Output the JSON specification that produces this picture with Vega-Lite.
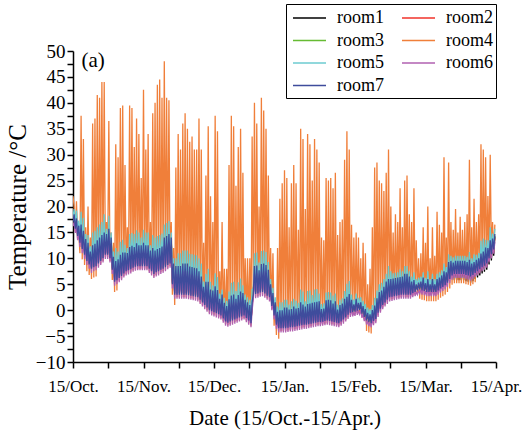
{
"$schema":"https://vega.github.io/schema/vega-lite/v6.json",
"width":423,"height":311,
"autosize":{"type":"none"},
"padding":{"left":73,"top":51,"right":27,"bottom":72},
"background":"white",
"config":{"view":{"stroke":null},"font":"Liberation Serif"},
"encoding":{
"x":{"field":"t","type":"quantitative","scale":{"domain":[0,183],"nice":false,"zero":false},
"axis":{"title":"Date (15/Oct.-15/Apr.)","values":[0,15.25,30.5,45.75,61,76.25,91.5,106.75,122,137.25,152.5,167.75,183],
"labelExpr":"datum.value==0?'15/Oct.':datum.value==30.5?'15/Nov.':datum.value==61?'15/Dec.':datum.value==91.5?'15/Jan.':datum.value==122?'15/Feb.':datum.value==152.5?'15/Mar.':datum.value==183?'15/Apr.':''",
"grid":false,"labelFlush":false,"labelOverlap":false,"tickSize":6,"tickWidth":1.5,"tickColor":"black","domainColor":"black","domainWidth":1.5,"labelFont":"Liberation Serif","labelFontSize":17,"labelColor":"black","labelPadding":10,"titleFont":"Liberation Serif","titleFontSize":21,"titleFontWeight":"normal","titleColor":"black","titlePadding":13}},
"y":{"field":"v","type":"quantitative","scale":{"domain":[-10,50],"nice":false,"zero":false},
"axis":{"title":"Temperature /°C","values":[-10,-7.5,-5,-2.5,0,2.5,5,7.5,10,12.5,15,17.5,20,22.5,25,27.5,30,32.5,35,37.5,40,42.5,45,47.5,50],
"labelExpr":"datum.value % 5 == 0 ? datum.label : ''",
"grid":false,"labelOverlap":false,"tickSize":6,"tickWidth":1.5,"tickColor":"black","domainColor":"black","domainWidth":1.5,"labelFont":"Liberation Serif","labelFontSize":19,"labelColor":"black","labelPadding":2,"titleFont":"Liberation Serif","titleFontSize":25,"titleFontWeight":"normal","titleColor":"black","titlePadding":5}}
},
"layer":[
{"data":{"values":[
{"t":0,"r1":17.3,"r2":17.6,"r3":17.9,"r4":22,"r5":18,"r6":16.2,"r7":17},
{"t":0.5,"r1":18,"r2":17.7,"r3":18.2,"r4":20,"r5":19.5,"r6":17,"r7":18.5},
{"t":1,"r1":16,"r2":16.3,"r3":16.6,"r4":15.2,"r5":16.7,"r6":14.9,"r7":15.7},
{"t":1.5,"r1":17.2,"r2":16.9,"r3":17.4,"r4":21,"r5":19.2,"r6":16.2,"r7":17.7},
{"t":2,"r1":14.6,"r2":14.9,"r3":15.2,"r4":13.8,"r5":15.3,"r6":13.5,"r7":14.3},
{"t":2.5,"r1":15.8,"r2":15.5,"r3":16,"r4":15,"r5":17.3,"r6":14.8,"r7":16.3},
{"t":3,"r1":13.3,"r2":13.6,"r3":13.9,"r4":11,"r5":14,"r6":12.2,"r7":13},
{"t":3.5,"r1":16,"r2":15.7,"r3":16.2,"r4":37.5,"r5":19,"r6":15,"r7":16.5},
{"t":4,"r1":12.1,"r2":12.4,"r3":12.7,"r4":9.8,"r5":12.8,"r6":11,"r7":11.8},
{"t":4.5,"r1":14.8,"r2":14.5,"r3":15,"r4":33,"r5":17.8,"r6":13.8,"r7":15.3},
{"t":5,"r1":11,"r2":11.3,"r3":11.6,"r4":8.7,"r5":11.7,"r6":9.9,"r7":10.7},
{"t":5.5,"r1":13.2,"r2":12.9,"r3":13.4,"r4":16,"r5":14.7,"r6":12.2,"r7":13.7},
{"t":6,"r1":9.8,"r2":10.1,"r3":10.4,"r4":7.5,"r5":10.5,"r6":8.7,"r7":9.5},
{"t":6.5,"r1":12.5,"r2":12.2,"r3":12.7,"r4":20,"r5":14.5,"r6":11.5,"r7":13},
{"t":7,"r1":9.1,"r2":9.4,"r3":9.7,"r4":6.8,"r5":9.8,"r6":8,"r7":8.8},
{"t":7.5,"r1":10.8,"r2":10.5,"r3":11,"r4":14,"r5":12.3,"r6":9.8,"r7":11.3},
{"t":8,"r1":8.3,"r2":8.6,"r3":8.9,"r4":6,"r5":9,"r6":7.2,"r7":8},
{"t":8.5,"r1":12,"r2":11.7,"r3":12.2,"r4":36,"r5":15,"r6":11,"r7":12.5},
{"t":9,"r1":8.6,"r2":8.9,"r3":9.2,"r4":6.3,"r5":9.3,"r6":7.5,"r7":8.3},
{"t":9.5,"r1":12.3,"r2":12,"r3":12.5,"r4":37,"r5":15.3,"r6":11.3,"r7":12.8},
{"t":10,"r1":8.8,"r2":9.1,"r3":9.4,"r4":6.5,"r5":9.5,"r6":7.7,"r7":8.5},
{"t":10.5,"r1":13,"r2":12.7,"r3":13.2,"r4":41.5,"r5":16,"r6":12,"r7":13.5},
{"t":11,"r1":9.3,"r2":9.6,"r3":9.9,"r4":8.5,"r5":10,"r6":8.2,"r7":9},
{"t":11.5,"r1":13.5,"r2":13.2,"r3":13.7,"r4":41,"r5":16.5,"r6":12.5,"r7":14},
{"t":12,"r1":9.8,"r2":10.1,"r3":10.4,"r4":9,"r5":10.5,"r6":8.7,"r7":9.5},
{"t":12.5,"r1":14,"r2":13.7,"r3":14.2,"r4":44,"r5":17,"r6":13,"r7":14.5},
{"t":13,"r1":10.3,"r2":10.6,"r3":10.9,"r4":9.5,"r5":11,"r6":9.2,"r7":10},
{"t":13.5,"r1":14.5,"r2":14.2,"r3":14.7,"r4":44,"r5":18.5,"r6":13.5,"r7":15},
{"t":14,"r1":11,"r2":11.3,"r3":11.6,"r4":10.2,"r5":11.7,"r6":9.9,"r7":10.7},
{"t":14.5,"r1":14.2,"r2":13.9,"r3":14.4,"r4":17,"r5":15.7,"r6":13.2,"r7":14.7},
{"t":15,"r1":11,"r2":11.3,"r3":11.6,"r4":10.2,"r5":11.7,"r6":9.9,"r7":10.7},
{"t":15.5,"r1":15.2,"r2":14.9,"r3":15.4,"r4":36.5,"r5":18.2,"r6":14.2,"r7":15.7},
{"t":16,"r1":10.3,"r2":10.6,"r3":10.9,"r4":9.5,"r5":11,"r6":9.2,"r7":10},
{"t":16.5,"r1":13.5,"r2":13.2,"r3":13.7,"r4":15,"r5":15,"r6":12.5,"r7":14},
{"t":17,"r1":8.1,"r2":8.4,"r3":8.7,"r4":5.8,"r5":8.8,"r6":7,"r7":7.8},
{"t":17.5,"r1":9.8,"r2":9.5,"r3":10,"r4":13,"r5":11.3,"r6":8.8,"r7":10.3},
{"t":18,"r1":5.8,"r2":6.1,"r3":6.4,"r4":3.5,"r5":6.5,"r6":4.7,"r7":5.5},
{"t":18.5,"r1":9,"r2":8.7,"r3":9.2,"r4":32,"r5":12,"r6":8,"r7":9.5},
{"t":19,"r1":6.1,"r2":6.4,"r3":6.7,"r4":3.8,"r5":6.8,"r6":5,"r7":5.8},
{"t":19.5,"r1":9.3,"r2":9,"r3":9.5,"r4":29.5,"r5":11.3,"r6":8.3,"r7":9.8},
{"t":20,"r1":6.5,"r2":6.8,"r3":7.1,"r4":5.7,"r5":7.2,"r6":5.4,"r7":6.2},
{"t":20.5,"r1":10.2,"r2":9.9,"r3":10.4,"r4":39,"r5":13.2,"r6":9.2,"r7":10.7},
{"t":21,"r1":6.9,"r2":7.2,"r3":7.5,"r4":6.1,"r5":7.6,"r6":5.8,"r7":6.6},
{"t":21.5,"r1":10.6,"r2":10.3,"r3":10.8,"r4":39.5,"r5":13.6,"r6":9.6,"r7":11.1},
{"t":22,"r1":7.4,"r2":7.7,"r3":8,"r4":6.6,"r5":8.1,"r6":6.3,"r7":7.1},
{"t":22.5,"r1":10.6,"r2":10.3,"r3":10.8,"r4":28,"r5":12.6,"r6":9.6,"r7":11.1},
{"t":23,"r1":7.8,"r2":8.1,"r3":8.4,"r4":7,"r5":8.5,"r6":6.7,"r7":7.5},
{"t":23.5,"r1":10.5,"r2":10.2,"r3":10.7,"r4":16,"r5":12,"r6":9.5,"r7":11},
{"t":24,"r1":8,"r2":8.3,"r3":8.6,"r4":7.2,"r5":8.7,"r6":6.9,"r7":7.7},
{"t":24.5,"r1":11.7,"r2":11.4,"r3":11.9,"r4":39.5,"r5":14.7,"r6":10.7,"r7":12.2},
{"t":25,"r1":8.2,"r2":8.5,"r3":8.8,"r4":7.4,"r5":8.9,"r6":7.1,"r7":7.9},
{"t":25.5,"r1":11.9,"r2":11.6,"r3":12.1,"r4":39,"r5":14.9,"r6":10.9,"r7":12.4},
{"t":26,"r1":8.5,"r2":8.8,"r3":9.1,"r4":7.7,"r5":9.2,"r6":7.4,"r7":8.2},
{"t":26.5,"r1":11.7,"r2":11.4,"r3":11.9,"r4":31.5,"r5":14.7,"r6":10.7,"r7":12.2},
{"t":27,"r1":8.7,"r2":9,"r3":9.3,"r4":7.9,"r5":9.4,"r6":7.6,"r7":8.4},
{"t":27.5,"r1":12.4,"r2":12.1,"r3":12.6,"r4":37,"r5":15.4,"r6":11.4,"r7":12.9},
{"t":28,"r1":8.8,"r2":9.1,"r3":9.4,"r4":8,"r5":9.5,"r6":7.7,"r7":8.5},
{"t":28.5,"r1":12,"r2":11.7,"r3":12.2,"r4":34,"r5":15,"r6":11,"r7":12.5},
{"t":29,"r1":8.8,"r2":9.1,"r3":9.4,"r4":8,"r5":9.5,"r6":7.7,"r7":8.5},
{"t":29.5,"r1":12,"r2":11.7,"r3":12.2,"r4":25.5,"r5":14,"r6":11,"r7":12.5},
{"t":30,"r1":8.8,"r2":9.1,"r3":9.4,"r4":8,"r5":9.5,"r6":7.7,"r7":8.5},
{"t":30.5,"r1":12.5,"r2":12.2,"r3":12.7,"r4":42.5,"r5":15.5,"r6":11.5,"r7":13},
{"t":31,"r1":8.8,"r2":9.1,"r3":9.4,"r4":8,"r5":9.5,"r6":7.7,"r7":8.5},
{"t":31.5,"r1":12,"r2":11.7,"r3":12.2,"r4":31,"r5":15,"r6":11,"r7":12.5},
{"t":32,"r1":8.8,"r2":9.1,"r3":9.4,"r4":8,"r5":9.5,"r6":7.7,"r7":8.5},
{"t":32.5,"r1":12,"r2":11.7,"r3":12.2,"r4":34,"r5":15,"r6":11,"r7":12.5},
{"t":33,"r1":8.3,"r2":8.6,"r3":8.9,"r4":7.5,"r5":9,"r6":7.2,"r7":8},
{"t":33.5,"r1":11,"r2":10.7,"r3":11.2,"r4":17,"r5":12.5,"r6":10,"r7":11.5},
{"t":34,"r1":7.8,"r2":8.1,"r3":8.4,"r4":7,"r5":8.5,"r6":6.7,"r7":7.5},
{"t":34.5,"r1":11.5,"r2":11.2,"r3":11.7,"r4":38,"r5":14.5,"r6":10.5,"r7":12},
{"t":35,"r1":7.3,"r2":7.6,"r3":7.9,"r4":6.5,"r5":8,"r6":6.2,"r7":7},
{"t":35.5,"r1":11,"r2":10.7,"r3":11.2,"r4":40,"r5":14,"r6":10,"r7":11.5},
{"t":36,"r1":7.6,"r2":7.9,"r3":8.2,"r4":6.8,"r5":8.3,"r6":6.5,"r7":7.3},
{"t":36.5,"r1":11.3,"r2":11,"r3":11.5,"r4":43.5,"r5":14.3,"r6":10.3,"r7":11.8},
{"t":37,"r1":7.8,"r2":8.1,"r3":8.4,"r4":7,"r5":8.5,"r6":6.7,"r7":7.5},
{"t":37.5,"r1":11.5,"r2":11.2,"r3":11.7,"r4":44.5,"r5":14.5,"r6":10.5,"r7":12},
{"t":38,"r1":8.1,"r2":8.4,"r3":8.7,"r4":7.3,"r5":8.8,"r6":7,"r7":7.8},
{"t":38.5,"r1":11.8,"r2":11.5,"r3":12,"r4":41,"r5":14.8,"r6":10.8,"r7":12.3},
{"t":39,"r1":8.3,"r2":8.6,"r3":8.9,"r4":7.5,"r5":9,"r6":7.2,"r7":8},
{"t":39.5,"r1":13.5,"r2":13.2,"r3":13.7,"r4":48,"r5":16.5,"r6":12.5,"r7":14},
{"t":40,"r1":8.6,"r2":8.9,"r3":9.2,"r4":7.8,"r5":9.3,"r6":7.5,"r7":8.3},
{"t":40.5,"r1":13.8,"r2":13.5,"r3":14,"r4":41,"r5":16.8,"r6":12.8,"r7":14.3},
{"t":41,"r1":9,"r2":9.3,"r3":9.6,"r4":8.2,"r5":9.7,"r6":7.9,"r7":8.7},
{"t":41.5,"r1":14.2,"r2":13.9,"r3":14.4,"r4":40.5,"r5":17.2,"r6":13.2,"r7":14.7},
{"t":42,"r1":9.3,"r2":9.6,"r3":9.9,"r4":8.5,"r5":10,"r6":8.2,"r7":9},
{"t":42.5,"r1":13.5,"r2":13.2,"r3":13.7,"r4":17,"r5":15,"r6":12.5,"r7":14},
{"t":43,"r1":5.3,"r2":5.6,"r3":5.9,"r4":3,"r5":6,"r6":4.2,"r7":5},
{"t":43.5,"r1":8.5,"r2":8.2,"r3":8.7,"r4":12,"r5":10,"r6":7.5,"r7":9},
{"t":44,"r1":3.3,"r2":3.6,"r3":3.9,"r4":1,"r5":4,"r6":2.2,"r7":3},
{"t":44.5,"r1":8,"r2":7.7,"r3":8.2,"r4":27.5,"r5":10,"r6":7,"r7":8.5},
{"t":45,"r1":3.3,"r2":3.6,"r3":3.9,"r4":2.5,"r5":4,"r6":2.2,"r7":3},
{"t":45.5,"r1":8,"r2":7.7,"r3":8.2,"r4":34,"r5":11,"r6":7,"r7":8.5},
{"t":46,"r1":3.3,"r2":3.6,"r3":3.9,"r4":2.5,"r5":4,"r6":2.2,"r7":3},
{"t":46.5,"r1":8,"r2":7.7,"r3":8.2,"r4":31,"r5":11,"r6":7,"r7":8.5},
{"t":47,"r1":3.3,"r2":3.6,"r3":3.9,"r4":2.5,"r5":4,"r6":2.2,"r7":3},
{"t":47.5,"r1":8.5,"r2":8.2,"r3":8.7,"r4":36,"r5":11.5,"r6":7.5,"r7":9},
{"t":48,"r1":3.3,"r2":3.6,"r3":3.9,"r4":2.5,"r5":4,"r6":2.2,"r7":3},
{"t":48.5,"r1":8.5,"r2":8.2,"r3":8.7,"r4":38,"r5":11.5,"r6":7.5,"r7":9},
{"t":49,"r1":3.3,"r2":3.6,"r3":3.9,"r4":2.5,"r5":4,"r6":2.2,"r7":3},
{"t":49.5,"r1":8.5,"r2":8.2,"r3":8.7,"r4":35,"r5":11.5,"r6":7.5,"r7":9},
{"t":50,"r1":3.2,"r2":3.5,"r3":3.8,"r4":2.4,"r5":3.9,"r6":2.1,"r7":2.9},
{"t":50.5,"r1":7.9,"r2":7.6,"r3":8.1,"r4":32.5,"r5":10.9,"r6":6.9,"r7":8.4},
{"t":51,"r1":3.1,"r2":3.4,"r3":3.7,"r4":2.3,"r5":3.8,"r6":2,"r7":2.8},
{"t":51.5,"r1":7.8,"r2":7.5,"r3":8,"r4":33.5,"r5":10.8,"r6":6.8,"r7":8.3},
{"t":52,"r1":3,"r2":3.3,"r3":3.6,"r4":2.2,"r5":3.7,"r6":1.9,"r7":2.7},
{"t":52.5,"r1":7.7,"r2":7.4,"r3":7.9,"r4":31,"r5":10.7,"r6":6.7,"r7":8.2},
{"t":53,"r1":2.9,"r2":3.2,"r3":3.5,"r4":2.1,"r5":3.6,"r6":1.8,"r7":2.6},
{"t":53.5,"r1":7.6,"r2":7.3,"r3":7.8,"r4":31,"r5":10.6,"r6":6.6,"r7":8.1},
{"t":54,"r1":2.8,"r2":3.1,"r3":3.4,"r4":2,"r5":3.5,"r6":1.7,"r7":2.5},
{"t":54.5,"r1":7,"r2":6.7,"r3":7.2,"r4":37,"r5":10,"r6":6,"r7":7.5},
{"t":55,"r1":2.3,"r2":2.6,"r3":2.9,"r4":1.5,"r5":3,"r6":1.2,"r7":2},
{"t":55.5,"r1":6,"r2":5.7,"r3":6.2,"r4":31,"r5":9,"r6":5,"r7":6.5},
{"t":56,"r1":1.8,"r2":2.1,"r3":2.4,"r4":1,"r5":2.5,"r6":0.7,"r7":1.5},
{"t":56.5,"r1":4,"r2":3.7,"r3":4.2,"r4":13,"r5":5.5,"r6":3,"r7":4.5},
{"t":57,"r1":1.3,"r2":1.6,"r3":1.9,"r4":0.5,"r5":2,"r6":0.2,"r7":1},
{"t":57.5,"r1":5,"r2":4.7,"r3":5.2,"r4":26,"r5":7,"r6":4,"r7":5.5},
{"t":58,"r1":0.8,"r2":1.1,"r3":1.4,"r4":0,"r5":1.5,"r6":-0.3,"r7":0.5},
{"t":58.5,"r1":5,"r2":4.7,"r3":5.2,"r4":35.5,"r5":8,"r6":4,"r7":5.5},
{"t":59,"r1":0.3,"r2":0.6,"r3":0.9,"r4":-0.5,"r5":1,"r6":-0.8,"r7":0},
{"t":59.5,"r1":3.5,"r2":3.2,"r3":3.7,"r4":22,"r5":5.5,"r6":2.5,"r7":4},
{"t":60,"r1":0.1,"r2":0.4,"r3":0.7,"r4":-0.7,"r5":0.8,"r6":-1,"r7":-0.2},
{"t":60.5,"r1":3.3,"r2":3,"r3":3.5,"r4":17,"r5":4.8,"r6":2.3,"r7":3.8},
{"t":61,"r1":-0.1,"r2":0.2,"r3":0.5,"r4":-0.9,"r5":0.6,"r6":-1.2,"r7":-0.4},
{"t":61.5,"r1":4.1,"r2":3.8,"r3":4.3,"r4":37.5,"r5":7.1,"r6":3.1,"r7":4.6},
{"t":62,"r1":-0.3,"r2":0,"r3":0.3,"r4":-1.1,"r5":0.4,"r6":-1.4,"r7":-0.6},
{"t":62.5,"r1":3.4,"r2":3.1,"r3":3.6,"r4":34.5,"r5":6.4,"r6":2.4,"r7":3.9},
{"t":63,"r1":-0.5,"r2":-0.2,"r3":0.1,"r4":-1.3,"r5":0.2,"r6":-1.6,"r7":-0.8},
{"t":63.5,"r1":1.7,"r2":1.4,"r3":1.9,"r4":7.5,"r5":3.2,"r6":0.7,"r7":2.2},
{"t":64,"r1":-0.7,"r2":-0.4,"r3":-0.1,"r4":-1.5,"r5":0,"r6":-1.8,"r7":-1},
{"t":64.5,"r1":2.5,"r2":2.2,"r3":2.7,"r4":17,"r5":4,"r6":1.5,"r7":3},
{"t":65,"r1":-1.3,"r2":-1,"r3":-0.7,"r4":-2.1,"r5":-0.6,"r6":-2.4,"r7":-1.6},
{"t":65.5,"r1":0.9,"r2":0.6,"r3":1.1,"r4":8,"r5":2.4,"r6":-0.1,"r7":1.4},
{"t":66,"r1":-1.9,"r2":-1.6,"r3":-1.3,"r4":-2.7,"r5":-1.2,"r6":-3,"r7":-2.2},
{"t":66.5,"r1":0.3,"r2":0,"r3":0.5,"r4":8,"r5":1.8,"r6":-0.7,"r7":0.8},
{"t":67,"r1":-2.1,"r2":-1.8,"r3":-1.5,"r4":-2.9,"r5":-1.4,"r6":-3.2,"r7":-2.4},
{"t":67.5,"r1":1.6,"r2":1.3,"r3":1.8,"r4":28,"r5":3.6,"r6":0.6,"r7":2.1},
{"t":68,"r1":-1.9,"r2":-1.6,"r3":-1.3,"r4":-2.7,"r5":-1.2,"r6":-3,"r7":-2.2},
{"t":68.5,"r1":2.3,"r2":2,"r3":2.5,"r4":37.5,"r5":5.3,"r6":1.3,"r7":2.8},
{"t":69,"r1":-1.7,"r2":-1.4,"r3":-1.1,"r4":-2.5,"r5":-1,"r6":-2.8,"r7":-2},
{"t":69.5,"r1":2.5,"r2":2.2,"r3":2.7,"r4":35.5,"r5":5.5,"r6":1.5,"r7":3},
{"t":70,"r1":-1.5,"r2":-1.2,"r3":-0.9,"r4":-2.3,"r5":-0.8,"r6":-2.6,"r7":-1.8},
{"t":70.5,"r1":1.7,"r2":1.4,"r3":1.9,"r4":24,"r5":3.7,"r6":0.7,"r7":2.2},
{"t":71,"r1":-1.3,"r2":-1,"r3":-0.7,"r4":-2.1,"r5":-0.6,"r6":-2.4,"r7":-1.6},
{"t":71.5,"r1":2.4,"r2":2.1,"r3":2.6,"r4":31.5,"r5":5.4,"r6":1.4,"r7":2.9},
{"t":72,"r1":-1.1,"r2":-0.8,"r3":-0.5,"r4":-1.9,"r5":-0.4,"r6":-2.2,"r7":-1.4},
{"t":72.5,"r1":3.1,"r2":2.8,"r3":3.3,"r4":35,"r5":6.1,"r6":2.1,"r7":3.6},
{"t":73,"r1":-0.9,"r2":-0.6,"r3":-0.3,"r4":-1.7,"r5":-0.2,"r6":-2,"r7":-1.2},
{"t":73.5,"r1":2.8,"r2":2.5,"r3":3,"r4":26.5,"r5":4.8,"r6":1.8,"r7":3.3},
{"t":74,"r1":-0.7,"r2":-0.4,"r3":-0.1,"r4":-1.5,"r5":0,"r6":-1.8,"r7":-1},
{"t":74.5,"r1":1.5,"r2":1.2,"r3":1.7,"r4":10,"r5":3,"r6":0.5,"r7":2},
{"t":75,"r1":-1.2,"r2":-0.9,"r3":-0.6,"r4":-2,"r5":-0.5,"r6":-2.3,"r7":-1.5},
{"t":75.5,"r1":1,"r2":0.7,"r3":1.2,"r4":10,"r5":2.5,"r6":0,"r7":1.5},
{"t":76,"r1":-1.7,"r2":-1.4,"r3":-1.1,"r4":-2.5,"r5":-1,"r6":-2.8,"r7":-2},
{"t":76.5,"r1":0.5,"r2":0.2,"r3":0.7,"r4":10,"r5":2,"r6":-0.5,"r7":1},
{"t":77,"r1":-2.2,"r2":-1.9,"r3":-1.6,"r4":-3,"r5":-1.5,"r6":-3.3,"r7":-2.5},
{"t":77.5,"r1":1,"r2":0.7,"r3":1.2,"r4":33.5,"r5":4,"r6":0,"r7":1.5},
{"t":78,"r1":3.3,"r2":3.6,"r3":3.9,"r4":2.5,"r5":4,"r6":2.2,"r7":3},
{"t":78.5,"r1":8,"r2":7.7,"r3":8.2,"r4":40,"r5":11,"r6":7,"r7":8.5},
{"t":79,"r1":3.4,"r2":3.7,"r3":4,"r4":2.6,"r5":4.1,"r6":2.3,"r7":3.1},
{"t":79.5,"r1":8.1,"r2":7.8,"r3":8.3,"r4":36,"r5":11.1,"r6":7.1,"r7":8.6},
{"t":80,"r1":3.5,"r2":3.8,"r3":4.1,"r4":2.7,"r5":4.2,"r6":2.4,"r7":3.2},
{"t":80.5,"r1":7.2,"r2":6.9,"r3":7.4,"r4":20,"r5":9.2,"r6":6.2,"r7":7.7},
{"t":81,"r1":3.7,"r2":4,"r3":4.3,"r4":2.9,"r5":4.4,"r6":2.6,"r7":3.4},
{"t":81.5,"r1":8.4,"r2":8.1,"r3":8.6,"r4":41,"r5":11.4,"r6":7.4,"r7":8.9},
{"t":82,"r1":3.8,"r2":4.1,"r3":4.4,"r4":3,"r5":4.5,"r6":2.7,"r7":3.5},
{"t":82.5,"r1":8.5,"r2":8.2,"r3":8.7,"r4":38.5,"r5":11.5,"r6":7.5,"r7":9},
{"t":83,"r1":3.5,"r2":3.8,"r3":4.1,"r4":2.7,"r5":4.2,"r6":2.4,"r7":3.2},
{"t":83.5,"r1":8.2,"r2":7.9,"r3":8.4,"r4":35,"r5":11.2,"r6":7.2,"r7":8.7},
{"t":84,"r1":3.1,"r2":3.4,"r3":3.7,"r4":2.3,"r5":3.8,"r6":2,"r7":2.8},
{"t":84.5,"r1":7.3,"r2":7,"r3":7.5,"r4":26,"r5":9.3,"r6":6.3,"r7":7.8},
{"t":85,"r1":2.8,"r2":3.1,"r3":3.4,"r4":2,"r5":3.5,"r6":1.7,"r7":2.5},
{"t":85.5,"r1":4.5,"r2":4.2,"r3":4.7,"r4":12,"r5":6,"r6":3.5,"r7":5},
{"t":86,"r1":1.1,"r2":1.4,"r3":1.7,"r4":0.3,"r5":1.8,"r6":0,"r7":0.8},
{"t":86.5,"r1":2.8,"r2":2.5,"r3":3,"r4":11,"r5":4.3,"r6":1.8,"r7":3.3},
{"t":87,"r1":-0.7,"r2":-0.4,"r3":-0.1,"r4":-3,"r5":0,"r6":-1.8,"r7":-1},
{"t":87.5,"r1":1,"r2":0.7,"r3":1.2,"r4":2,"r5":2.5,"r6":0,"r7":1.5},
{"t":88,"r1":-2.5,"r2":-2.2,"r3":-1.9,"r4":-4.8,"r5":-1.8,"r6":-3.6,"r7":-2.8},
{"t":88.5,"r1":-0.8,"r2":-1.1,"r3":-0.6,"r4":12,"r5":0.7,"r6":-1.8,"r7":-0.3},
{"t":89,"r1":-3.2,"r2":-2.9,"r3":-2.6,"r4":-5.5,"r5":-2.5,"r6":-4.3,"r7":-3.5},
{"t":89.5,"r1":-0.5,"r2":-0.8,"r3":-0.3,"r4":21.5,"r5":1.5,"r6":-1.5,"r7":0},
{"t":90,"r1":-3.2,"r2":-2.9,"r3":-2.6,"r4":-4,"r5":-2.5,"r6":-4.3,"r7":-3.5},
{"t":90.5,"r1":-0.5,"r2":-0.8,"r3":-0.3,"r4":24.5,"r5":1.5,"r6":-1.5,"r7":0},
{"t":91,"r1":-3.2,"r2":-2.9,"r3":-2.6,"r4":-4,"r5":-2.5,"r6":-4.3,"r7":-3.5},
{"t":91.5,"r1":0,"r2":-0.3,"r3":0.2,"r4":27,"r5":2,"r6":-1,"r7":0.5},
{"t":92,"r1":-3.2,"r2":-2.9,"r3":-2.6,"r4":-4,"r5":-2.5,"r6":-4.3,"r7":-3.5},
{"t":92.5,"r1":0,"r2":-0.3,"r3":0.2,"r4":25.5,"r5":2,"r6":-1,"r7":0.5},
{"t":93,"r1":-3.1,"r2":-2.8,"r3":-2.5,"r4":-3.9,"r5":-2.4,"r6":-4.2,"r7":-3.4},
{"t":93.5,"r1":-0.4,"r2":-0.7,"r3":-0.2,"r4":16,"r5":1.1,"r6":-1.4,"r7":0.1},
{"t":94,"r1":-3,"r2":-2.7,"r3":-2.4,"r4":-3.8,"r5":-2.3,"r6":-4.1,"r7":-3.3},
{"t":94.5,"r1":-0.3,"r2":-0.6,"r3":-0.1,"r4":24.5,"r5":1.7,"r6":-1.3,"r7":0.2},
{"t":95,"r1":-3,"r2":-2.7,"r3":-2.4,"r4":-3.8,"r5":-2.3,"r6":-4.1,"r7":-3.3},
{"t":95.5,"r1":0.2,"r2":-0.1,"r3":0.4,"r4":28,"r5":2.2,"r6":-0.8,"r7":0.7},
{"t":96,"r1":-2.9,"r2":-2.6,"r3":-2.3,"r4":-3.7,"r5":-2.2,"r6":-4,"r7":-3.2},
{"t":96.5,"r1":-0.2,"r2":-0.5,"r3":0,"r4":24.5,"r5":1.8,"r6":-1.2,"r7":0.3},
{"t":97,"r1":-2.8,"r2":-2.5,"r3":-2.2,"r4":-3.6,"r5":-2.1,"r6":-3.9,"r7":-3.1},
{"t":97.5,"r1":-0.1,"r2":-0.4,"r3":0.1,"r4":15.5,"r5":1.4,"r6":-1.1,"r7":0.4},
{"t":98,"r1":-2.7,"r2":-2.4,"r3":-2.1,"r4":-3.5,"r5":-2,"r6":-3.8,"r7":-3},
{"t":98.5,"r1":1,"r2":0.7,"r3":1.2,"r4":35,"r5":4,"r6":0,"r7":1.5},
{"t":99,"r1":-2.6,"r2":-2.3,"r3":-2,"r4":-3.4,"r5":-1.9,"r6":-3.7,"r7":-2.9},
{"t":99.5,"r1":0.6,"r2":0.3,"r3":0.8,"r4":33,"r5":3.6,"r6":-0.4,"r7":1.1},
{"t":100,"r1":-2.5,"r2":-2.2,"r3":-1.9,"r4":-3.3,"r5":-1.8,"r6":-3.6,"r7":-2.8},
{"t":100.5,"r1":0.2,"r2":-0.1,"r3":0.4,"r4":19.5,"r5":1.7,"r6":-0.8,"r7":0.7},
{"t":101,"r1":-2.5,"r2":-2.2,"r3":-1.9,"r4":-3.3,"r5":-1.8,"r6":-3.6,"r7":-2.8},
{"t":101.5,"r1":0.7,"r2":0.4,"r3":0.9,"r4":34,"r5":3.7,"r6":-0.3,"r7":1.2},
{"t":102,"r1":-2.4,"r2":-2.1,"r3":-1.8,"r4":-3.2,"r5":-1.7,"r6":-3.5,"r7":-2.7},
{"t":102.5,"r1":0.8,"r2":0.5,"r3":1,"r4":32,"r5":3.8,"r6":-0.2,"r7":1.3},
{"t":103,"r1":-2.3,"r2":-2,"r3":-1.7,"r4":-3.1,"r5":-1.6,"r6":-3.4,"r7":-2.6},
{"t":103.5,"r1":0.9,"r2":0.6,"r3":1.1,"r4":25,"r5":2.9,"r6":-0.1,"r7":1.4},
{"t":104,"r1":-2.2,"r2":-1.9,"r3":-1.6,"r4":-3,"r5":-1.5,"r6":-3.3,"r7":-2.5},
{"t":104.5,"r1":1,"r2":0.7,"r3":1.2,"r4":33,"r5":4,"r6":0,"r7":1.5},
{"t":105,"r1":-2.1,"r2":-1.8,"r3":-1.5,"r4":-2.9,"r5":-1.4,"r6":-3.2,"r7":-2.4},
{"t":105.5,"r1":1.1,"r2":0.8,"r3":1.3,"r4":31,"r5":4.1,"r6":0.1,"r7":1.6},
{"t":106,"r1":-2,"r2":-1.7,"r3":-1.4,"r4":-2.8,"r5":-1.3,"r6":-3.1,"r7":-2.3},
{"t":106.5,"r1":1.2,"r2":0.9,"r3":1.4,"r4":28.5,"r5":3.2,"r6":0.2,"r7":1.7},
{"t":107,"r1":-2,"r2":-1.7,"r3":-1.4,"r4":-2.8,"r5":-1.3,"r6":-3.1,"r7":-2.3},
{"t":107.5,"r1":-0.3,"r2":-0.6,"r3":-0.1,"r4":14,"r5":1.2,"r6":-1.3,"r7":0.2},
{"t":108,"r1":-1.9,"r2":-1.6,"r3":-1.3,"r4":-2.7,"r5":-1.2,"r6":-3,"r7":-2.2},
{"t":108.5,"r1":-0.2,"r2":-0.5,"r3":0,"r4":13.5,"r5":1.3,"r6":-1.2,"r7":0.3},
{"t":109,"r1":-1.8,"r2":-1.5,"r3":-1.2,"r4":-2.6,"r5":-1.1,"r6":-2.9,"r7":-2.1},
{"t":109.5,"r1":1.4,"r2":1.1,"r3":1.6,"r4":25.5,"r5":3.4,"r6":0.4,"r7":1.9},
{"t":110,"r1":-1.7,"r2":-1.4,"r3":-1.1,"r4":-2.5,"r5":-1,"r6":-2.8,"r7":-2},
{"t":110.5,"r1":1.5,"r2":1.2,"r3":1.7,"r4":25,"r5":3.5,"r6":0.5,"r7":2},
{"t":111,"r1":-1.8,"r2":-1.5,"r3":-1.2,"r4":-2.6,"r5":-1.1,"r6":-2.9,"r7":-2.1},
{"t":111.5,"r1":1.4,"r2":1.1,"r3":1.6,"r4":25.5,"r5":3.4,"r6":0.4,"r7":1.9},
{"t":112,"r1":-1.9,"r2":-1.6,"r3":-1.3,"r4":-2.7,"r5":-1.2,"r6":-3,"r7":-2.2},
{"t":112.5,"r1":0.8,"r2":0.5,"r3":1,"r4":23.5,"r5":2.8,"r6":-0.2,"r7":1.3},
{"t":113,"r1":-2,"r2":-1.7,"r3":-1.4,"r4":-2.8,"r5":-1.3,"r6":-3.1,"r7":-2.3},
{"t":113.5,"r1":1.2,"r2":0.9,"r3":1.4,"r4":26.5,"r5":3.2,"r6":0.2,"r7":1.7},
{"t":114,"r1":-2.1,"r2":-1.8,"r3":-1.5,"r4":-2.9,"r5":-1.4,"r6":-3.2,"r7":-2.4},
{"t":114.5,"r1":-0.4,"r2":-0.7,"r3":-0.2,"r4":14.5,"r5":1.1,"r6":-1.4,"r7":0.1},
{"t":115,"r1":-2.2,"r2":-1.9,"r3":-1.6,"r4":-3,"r5":-1.5,"r6":-3.3,"r7":-2.5},
{"t":115.5,"r1":0.5,"r2":0.2,"r3":0.7,"r4":17,"r5":2,"r6":-0.5,"r7":1},
{"t":116,"r1":-1.9,"r2":-1.6,"r3":-1.3,"r4":-2.7,"r5":-1.2,"r6":-3,"r7":-2.2},
{"t":116.5,"r1":0.8,"r2":0.5,"r3":1,"r4":17.5,"r5":2.3,"r6":-0.2,"r7":1.3},
{"t":117,"r1":-1.5,"r2":-1.2,"r3":-0.9,"r4":-2.3,"r5":-0.8,"r6":-2.6,"r7":-1.8},
{"t":117.5,"r1":1.7,"r2":1.4,"r3":1.9,"r4":29,"r5":3.7,"r6":0.7,"r7":2.2},
{"t":118,"r1":-1.1,"r2":-0.8,"r3":-0.5,"r4":-1.9,"r5":-0.4,"r6":-2.2,"r7":-1.4},
{"t":118.5,"r1":2.1,"r2":1.8,"r3":2.3,"r4":34.5,"r5":5.1,"r6":1.1,"r7":2.6},
{"t":119,"r1":-0.6,"r2":-0.3,"r3":0,"r4":-1.4,"r5":0.1,"r6":-1.7,"r7":-0.9},
{"t":119.5,"r1":2.6,"r2":2.3,"r3":2.8,"r4":31,"r5":5.6,"r6":1.6,"r7":3.1},
{"t":120,"r1":-0.2,"r2":0.1,"r3":0.4,"r4":-1,"r5":0.5,"r6":-1.3,"r7":-0.5},
{"t":120.5,"r1":1.5,"r2":1.2,"r3":1.7,"r4":16.5,"r5":3,"r6":0.5,"r7":2},
{"t":121,"r1":-0.1,"r2":0.2,"r3":0.5,"r4":-0.9,"r5":0.6,"r6":-1.2,"r7":-0.4},
{"t":121.5,"r1":0.6,"r2":0.3,"r3":0.8,"r4":14,"r5":2.1,"r6":-0.4,"r7":1.1},
{"t":122,"r1":0,"r2":0.3,"r3":0.6,"r4":-0.8,"r5":0.7,"r6":-1.1,"r7":-0.3},
{"t":122.5,"r1":1.7,"r2":1.4,"r3":1.9,"r4":15,"r5":3.2,"r6":0.7,"r7":2.2},
{"t":123,"r1":0.2,"r2":0.5,"r3":0.8,"r4":-0.6,"r5":0.9,"r6":-0.9,"r7":-0.1},
{"t":123.5,"r1":0.9,"r2":0.6,"r3":1.1,"r4":14,"r5":2.4,"r6":-0.1,"r7":1.4},
{"t":124,"r1":0.3,"r2":0.6,"r3":0.9,"r4":-0.5,"r5":1,"r6":-0.8,"r7":0},
{"t":124.5,"r1":1,"r2":0.7,"r3":1.2,"r4":10,"r5":2.5,"r6":0,"r7":1.5},
{"t":125,"r1":-0.4,"r2":-0.1,"r3":0.2,"r4":-1.2,"r5":0.3,"r6":-1.5,"r7":-0.7},
{"t":125.5,"r1":0.3,"r2":0,"r3":0.5,"r4":13,"r5":1.8,"r6":-0.7,"r7":0.8},
{"t":126,"r1":-1,"r2":-0.7,"r3":-0.4,"r4":-1.8,"r5":-0.3,"r6":-2.1,"r7":-1.3},
{"t":126.5,"r1":-0.3,"r2":-0.6,"r3":-0.1,"r4":11,"r5":1.2,"r6":-1.3,"r7":0.2},
{"t":127,"r1":-1.7,"r2":-1.4,"r3":-1.1,"r4":-4,"r5":-1,"r6":-2.8,"r7":-2},
{"t":127.5,"r1":-1,"r2":-1.3,"r3":-0.8,"r4":5,"r5":0.5,"r6":-2,"r7":-0.5},
{"t":128,"r1":-2,"r2":-1.7,"r3":-1.4,"r4":-4.3,"r5":-1.3,"r6":-3.1,"r7":-2.3},
{"t":128.5,"r1":-1.3,"r2":-1.6,"r3":-1.1,"r4":8,"r5":0.2,"r6":-2.3,"r7":-0.8},
{"t":129,"r1":-2.2,"r2":-1.9,"r3":-1.6,"r4":-4.5,"r5":-1.5,"r6":-3.3,"r7":-2.5},
{"t":129.5,"r1":-0.5,"r2":-0.8,"r3":-0.3,"r4":16,"r5":1,"r6":-1.5,"r7":0},
{"t":130,"r1":-1.8,"r2":-1.5,"r3":-1.2,"r4":-2.6,"r5":-1.1,"r6":-2.9,"r7":-2.1},
{"t":130.5,"r1":0.4,"r2":0.1,"r3":0.6,"r4":27.5,"r5":2.4,"r6":-0.6,"r7":0.9},
{"t":131,"r1":-1.4,"r2":-1.1,"r3":-0.8,"r4":-2.2,"r5":-0.7,"r6":-2.5,"r7":-1.7},
{"t":131.5,"r1":1.8,"r2":1.5,"r3":2,"r4":28.5,"r5":3.8,"r6":0.8,"r7":2.3},
{"t":132,"r1":-0.2,"r2":0.1,"r3":0.4,"r4":-1,"r5":0.5,"r6":-1.3,"r7":-0.5},
{"t":132.5,"r1":3,"r2":2.7,"r3":3.2,"r4":25,"r5":5,"r6":2,"r7":3.5},
{"t":133,"r1":0.6,"r2":0.9,"r3":1.2,"r4":-0.2,"r5":1.3,"r6":-0.5,"r7":0.3},
{"t":133.5,"r1":3.3,"r2":3,"r3":3.5,"r4":24.5,"r5":5.3,"r6":2.3,"r7":3.8},
{"t":134,"r1":1.3,"r2":1.6,"r3":1.9,"r4":0.5,"r5":2,"r6":0.2,"r7":1},
{"t":134.5,"r1":4,"r2":3.7,"r3":4.2,"r4":23,"r5":6,"r6":3,"r7":4.5},
{"t":135,"r1":1.8,"r2":2.1,"r3":2.4,"r4":1,"r5":2.5,"r6":0.7,"r7":1.5},
{"t":135.5,"r1":5,"r2":4.7,"r3":5.2,"r4":26.5,"r5":7,"r6":4,"r7":5.5},
{"t":136,"r1":2.3,"r2":2.6,"r3":2.9,"r4":1.5,"r5":3,"r6":1.2,"r7":2},
{"t":136.5,"r1":5.5,"r2":5.2,"r3":5.7,"r4":31,"r5":8.5,"r6":4.5,"r7":6},
{"t":137,"r1":2.8,"r2":3.1,"r3":3.4,"r4":2,"r5":3.5,"r6":1.7,"r7":2.5},
{"t":137.5,"r1":5.5,"r2":5.2,"r3":5.7,"r4":20,"r5":7.5,"r6":4.5,"r7":6},
{"t":138,"r1":2.9,"r2":3.2,"r3":3.5,"r4":2.1,"r5":3.6,"r6":1.8,"r7":2.6},
{"t":138.5,"r1":5.6,"r2":5.3,"r3":5.8,"r4":15,"r5":7.1,"r6":4.6,"r7":6.1},
{"t":139,"r1":3,"r2":3.3,"r3":3.6,"r4":2.2,"r5":3.7,"r6":1.9,"r7":2.7},
{"t":139.5,"r1":5.7,"r2":5.4,"r3":5.9,"r4":18.5,"r5":7.2,"r6":4.7,"r7":6.2},
{"t":140,"r1":3.1,"r2":3.4,"r3":3.7,"r4":2.3,"r5":3.8,"r6":2,"r7":2.8},
{"t":140.5,"r1":5.8,"r2":5.5,"r3":6,"r4":17,"r5":7.3,"r6":4.8,"r7":6.3},
{"t":141,"r1":3.2,"r2":3.5,"r3":3.8,"r4":2.4,"r5":3.9,"r6":2.1,"r7":2.9},
{"t":141.5,"r1":5.9,"r2":5.6,"r3":6.1,"r4":23.5,"r5":7.9,"r6":4.9,"r7":6.4},
{"t":142,"r1":3.3,"r2":3.6,"r3":3.9,"r4":2.5,"r5":4,"r6":2.2,"r7":3},
{"t":142.5,"r1":6,"r2":5.7,"r3":6.2,"r4":16,"r5":7.5,"r6":5,"r7":6.5},
{"t":143,"r1":3.3,"r2":3.6,"r3":3.9,"r4":2.5,"r5":4,"r6":2.2,"r7":3},
{"t":143.5,"r1":6.5,"r2":6.2,"r3":6.7,"r4":25,"r5":8.5,"r6":5.5,"r7":7},
{"t":144,"r1":3.3,"r2":3.6,"r3":3.9,"r4":2.5,"r5":4,"r6":2.2,"r7":3},
{"t":144.5,"r1":6.5,"r2":6.2,"r3":6.7,"r4":26,"r5":8.5,"r6":5.5,"r7":7},
{"t":145,"r1":3.3,"r2":3.6,"r3":3.9,"r4":2.5,"r5":4,"r6":2.2,"r7":3},
{"t":145.5,"r1":6,"r2":5.7,"r3":6.2,"r4":18.5,"r5":7.5,"r6":5,"r7":6.5},
{"t":146,"r1":3.3,"r2":3.6,"r3":3.9,"r4":2.5,"r5":4,"r6":2.2,"r7":3},
{"t":146.5,"r1":5,"r2":4.7,"r3":5.2,"r4":17,"r5":6.5,"r6":4,"r7":5.5},
{"t":147,"r1":3.6,"r2":3.9,"r3":4.2,"r4":2.8,"r5":4.3,"r6":2.5,"r7":3.3},
{"t":147.5,"r1":5.3,"r2":5,"r3":5.5,"r4":23.5,"r5":7.3,"r6":4.3,"r7":5.8},
{"t":148,"r1":3.8,"r2":4.1,"r3":4.4,"r4":3,"r5":4.5,"r6":2.7,"r7":3.5},
{"t":148.5,"r1":4.5,"r2":4.2,"r3":4.7,"r4":13.5,"r5":6,"r6":3.5,"r7":5},
{"t":149,"r1":4.1,"r2":4.4,"r3":4.7,"r4":3.3,"r5":4.8,"r6":3,"r7":3.8},
{"t":149.5,"r1":4.8,"r2":4.5,"r3":5,"r4":10,"r5":6.3,"r6":3.8,"r7":5.3},
{"t":150,"r1":4.3,"r2":4.6,"r3":4.9,"r4":2.2,"r5":5,"r6":3.2,"r7":4},
{"t":150.5,"r1":5,"r2":4.7,"r3":5.2,"r4":11,"r5":6.5,"r6":4,"r7":5.5},
{"t":151,"r1":4.1,"r2":4.4,"r3":4.7,"r4":2,"r5":4.8,"r6":3,"r7":3.8},
{"t":151.5,"r1":5.8,"r2":5.5,"r3":6,"r4":16,"r5":7.3,"r6":4.8,"r7":6.3},
{"t":152,"r1":4,"r2":4.3,"r3":4.6,"r4":1.9,"r5":4.7,"r6":2.9,"r7":3.7},
{"t":152.5,"r1":4.7,"r2":4.4,"r3":4.9,"r4":13,"r5":6.2,"r6":3.7,"r7":5.2},
{"t":153,"r1":3.8,"r2":4.1,"r3":4.4,"r4":1.7,"r5":4.5,"r6":2.7,"r7":3.5},
{"t":153.5,"r1":5.5,"r2":5.2,"r3":5.7,"r4":20,"r5":7.5,"r6":4.5,"r7":6},
{"t":154,"r1":3.8,"r2":4.1,"r3":4.4,"r4":1.7,"r5":4.5,"r6":2.7,"r7":3.5},
{"t":154.5,"r1":4.5,"r2":4.2,"r3":4.7,"r4":10,"r5":6,"r6":3.5,"r7":5},
{"t":155,"r1":3.8,"r2":4.1,"r3":4.4,"r4":1.7,"r5":4.5,"r6":2.7,"r7":3.5},
{"t":155.5,"r1":5.5,"r2":5.2,"r3":5.7,"r4":16,"r5":7,"r6":4.5,"r7":6},
{"t":156,"r1":3.8,"r2":4.1,"r3":4.4,"r4":1.7,"r5":4.5,"r6":2.7,"r7":3.5},
{"t":156.5,"r1":4.5,"r2":4.2,"r3":4.7,"r4":10.5,"r5":6,"r6":3.5,"r7":5},
{"t":157,"r1":3.8,"r2":4.1,"r3":4.4,"r4":1.7,"r5":4.5,"r6":2.7,"r7":3.5},
{"t":157.5,"r1":5.5,"r2":5.2,"r3":5.7,"r4":19,"r5":7,"r6":4.5,"r7":6},
{"t":158,"r1":4.1,"r2":4.4,"r3":4.7,"r4":2,"r5":4.8,"r6":3,"r7":3.8},
{"t":158.5,"r1":5.8,"r2":5.5,"r3":6,"r4":16.5,"r5":7.3,"r6":4.8,"r7":6.3},
{"t":159,"r1":4.5,"r2":4.8,"r3":5.1,"r4":2.4,"r5":5.2,"r6":3.4,"r7":4.2},
{"t":159.5,"r1":6.2,"r2":5.9,"r3":6.4,"r4":15,"r5":7.7,"r6":5.2,"r7":6.7},
{"t":160,"r1":4.8,"r2":5.1,"r3":5.4,"r4":2.7,"r5":5.5,"r6":3.7,"r7":4.5},
{"t":160.5,"r1":7,"r2":6.7,"r3":7.2,"r4":29.5,"r5":9,"r6":6,"r7":7.5},
{"t":161,"r1":5.1,"r2":5.4,"r3":5.7,"r4":3,"r5":5.8,"r6":4,"r7":4.8},
{"t":161.5,"r1":6.8,"r2":6.5,"r3":7,"r4":14,"r5":8.3,"r6":5.8,"r7":7.3},
{"t":162,"r1":5.6,"r2":5.9,"r3":6.2,"r4":3.5,"r5":6.3,"r6":4.5,"r7":5.3},
{"t":162.5,"r1":8.8,"r2":8.5,"r3":9,"r4":28.5,"r5":10.8,"r6":7.8,"r7":9.3},
{"t":163,"r1":6.3,"r2":6.6,"r3":6.9,"r4":4.2,"r5":7,"r6":5.2,"r7":6},
{"t":163.5,"r1":9,"r2":8.7,"r3":9.2,"r4":17,"r5":10.5,"r6":8,"r7":9.5},
{"t":164,"r1":7,"r2":7.3,"r3":7.6,"r4":4.9,"r5":7.7,"r6":5.9,"r7":6.7},
{"t":164.5,"r1":8.7,"r2":8.4,"r3":8.9,"r4":15.5,"r5":10.2,"r6":7.7,"r7":9.2},
{"t":165,"r1":5.8,"r2":7.6,"r3":7.9,"r4":5.2,"r5":8,"r6":6.2,"r7":7},
{"t":165.5,"r1":9,"r2":8.7,"r3":9.2,"r4":19.5,"r5":10.5,"r6":8,"r7":9.5},
{"t":166,"r1":5.8,"r2":7.6,"r3":7.9,"r4":5.2,"r5":8,"r6":6.2,"r7":7},
{"t":166.5,"r1":9,"r2":8.7,"r3":9.2,"r4":15,"r5":10.5,"r6":8,"r7":9.5},
{"t":167,"r1":5.8,"r2":7.6,"r3":7.9,"r4":5.2,"r5":8,"r6":6.2,"r7":7},
{"t":167.5,"r1":9,"r2":8.7,"r3":9.2,"r4":18,"r5":10.5,"r6":8,"r7":9.5},
{"t":168,"r1":5.8,"r2":7.6,"r3":7.9,"r4":5.2,"r5":8,"r6":6.2,"r7":7},
{"t":168.5,"r1":9,"r2":8.7,"r3":9.2,"r4":15.5,"r5":10.5,"r6":8,"r7":9.5},
{"t":169,"r1":5.8,"r2":7.6,"r3":7.9,"r4":5.2,"r5":8,"r6":6.2,"r7":7},
{"t":169.5,"r1":9,"r2":8.7,"r3":9.2,"r4":17,"r5":10.5,"r6":8,"r7":9.5},
{"t":170,"r1":5.6,"r2":7.4,"r3":7.7,"r4":5,"r5":7.8,"r6":6,"r7":6.8},
{"t":170.5,"r1":8.8,"r2":8.5,"r3":9,"r4":18.5,"r5":10.3,"r6":7.8,"r7":9.3},
{"t":171,"r1":5.5,"r2":7.3,"r3":7.6,"r4":4.9,"r5":7.7,"r6":5.9,"r7":6.7},
{"t":171.5,"r1":9.2,"r2":8.9,"r3":9.4,"r4":29,"r5":11.2,"r6":8.2,"r7":9.7},
{"t":172,"r1":5.3,"r2":7.1,"r3":7.4,"r4":4.7,"r5":7.5,"r6":5.7,"r7":6.5},
{"t":172.5,"r1":8.5,"r2":8.2,"r3":8.7,"r4":16,"r5":10,"r6":7.5,"r7":9},
{"t":173,"r1":5.6,"r2":7.4,"r3":7.7,"r4":5,"r5":7.8,"r6":6,"r7":6.8},
{"t":173.5,"r1":8.8,"r2":8.5,"r3":9,"r4":21.5,"r5":10.8,"r6":7.8,"r7":9.3},
{"t":174,"r1":6,"r2":7.8,"r3":8.1,"r4":5.4,"r5":8.2,"r6":6.4,"r7":7.2},
{"t":174.5,"r1":9.2,"r2":8.9,"r3":9.4,"r4":17,"r5":10.7,"r6":8.2,"r7":9.7},
{"t":175,"r1":6.3,"r2":8.1,"r3":8.4,"r4":7,"r5":8.5,"r6":6.7,"r7":7.5},
{"t":175.5,"r1":9.5,"r2":9.2,"r3":9.7,"r4":18.5,"r5":11,"r6":8.5,"r7":10},
{"t":176,"r1":6.7,"r2":8.5,"r3":8.8,"r4":7.4,"r5":8.9,"r6":7.1,"r7":7.9},
{"t":176.5,"r1":10.4,"r2":10.1,"r3":10.6,"r4":32,"r5":13.4,"r6":9.4,"r7":10.9},
{"t":177,"r1":7.1,"r2":8.9,"r3":9.2,"r4":7.8,"r5":9.3,"r6":7.5,"r7":8.3},
{"t":177.5,"r1":10.8,"r2":10.5,"r3":11,"r4":31,"r5":13.8,"r6":9.8,"r7":11.3},
{"t":178,"r1":7.4,"r2":9.2,"r3":9.5,"r4":8.1,"r5":9.6,"r6":7.8,"r7":8.6},
{"t":178.5,"r1":11.6,"r2":11.3,"r3":11.8,"r4":29.5,"r5":13.6,"r6":10.6,"r7":12.1},
{"t":179,"r1":7.8,"r2":9.6,"r3":9.9,"r4":8.5,"r5":10,"r6":8.2,"r7":9},
{"t":179.5,"r1":11.5,"r2":11.2,"r3":11.7,"r4":22,"r5":13.5,"r6":10.5,"r7":12},
{"t":180,"r1":8.8,"r2":10.6,"r3":10.9,"r4":9.5,"r5":11,"r6":9.2,"r7":10},
{"t":180.5,"r1":13,"r2":12.7,"r3":13.2,"r4":30,"r5":16,"r6":12,"r7":13.5},
{"t":181,"r1":9.6,"r2":11.4,"r3":11.7,"r4":10.3,"r5":11.8,"r6":10,"r7":10.8},
{"t":181.5,"r1":13.3,"r2":13,"r3":13.5,"r4":17,"r5":14.8,"r6":12.3,"r7":13.8},
{"t":182,"r1":10.5,"r2":12.3,"r3":12.6,"r4":11.2,"r5":12.7,"r6":10.9,"r7":11.7},
{"t":182.5,"r1":14.2,"r2":13.9,"r3":14.4,"r4":16.5,"r5":15.7,"r6":13.2,"r7":14.7}
]},
"transform":[{"fold":["r1","r2","r3","r4","r5","r6","r7"],"as":["room","v"]}],
"mark":{"type":"line","strokeWidth":1.3,"clip":true},
"encoding":{
"color":{"field":"room","type":"nominal",
"scale":{"domain":["r1","r2","r3","r4","r5","r6","r7"],"range":["#000000","#f0322a","#66bb33","#f07f3a","#6ccbd0","#b060b0","#3f4c9c"]},
"legend":{"title":null,"orient":"none","legendX":213,"legendY":-47,"columns":2,"direction":"horizontal",
"symbolType":"M-0.7,0H2.6","symbolSize":400,"symbolStrokeWidth":1.5,
"labelFont":"Liberation Serif","labelFontSize":18,"labelColor":"black","labelOffset":26,
"padding":3,"rowPadding":2.5,"columnPadding":14,"strokeColor":"black","fillColor":"white",
"labelExpr":"'room' + substring(datum.label,1)"}}
}},
{"data":{"values":[{"t":8.7,"v":48,"label":"(a)"}]},
"mark":{"type":"text","fontSize":21,"font":"Liberation Serif","color":"black","align":"center","baseline":"middle"},
"encoding":{"text":{"field":"label"}}}
]
}
